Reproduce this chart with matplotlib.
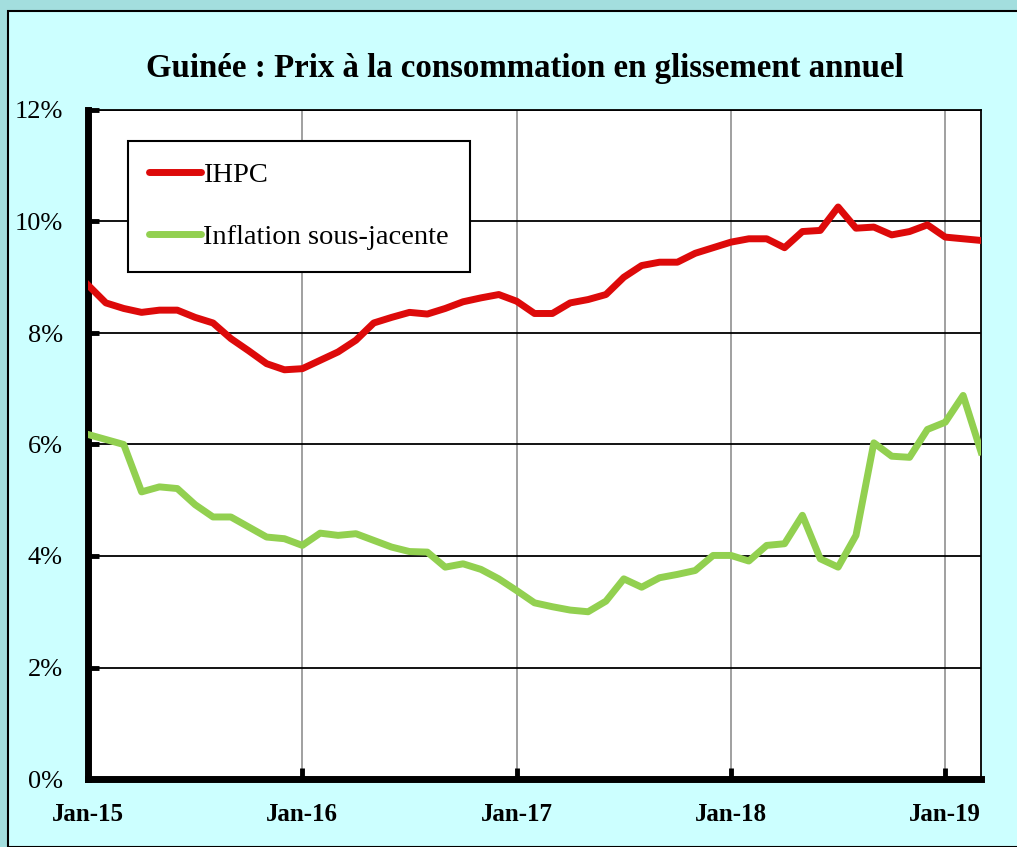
import matplotlib.pyplot as plt
from matplotlib.patches import Rectangle
from matplotlib.ticker import FuncFormatter

# monthly data, Jan-15 .. Mar-19
ihpc = [8.86, 8.54, 8.44, 8.37, 8.41, 8.41, 8.28, 8.18, 7.90, 7.68, 7.45, 7.34,
        7.36, 7.51, 7.66, 7.87, 8.18, 8.28, 8.37, 8.34, 8.44, 8.56, 8.63, 8.69,
        8.57, 8.35, 8.35, 8.54, 8.60, 8.69, 9.00, 9.21, 9.27, 9.27, 9.43, 9.53,
        9.63, 9.69, 9.69, 9.53, 9.82, 9.84, 10.26, 9.88, 9.90, 9.76, 9.82, 9.94,
        9.72, 9.69, 9.66]
sous_jacente = [6.18, 6.09, 6.00, 5.15, 5.24, 5.21, 4.92, 4.70, 4.70, 4.52, 4.34, 4.31,
                4.19, 4.41, 4.37, 4.40, 4.28, 4.16, 4.08, 4.07, 3.80, 3.86, 3.76, 3.59,
                3.38, 3.16, 3.09, 3.03, 3.00, 3.19, 3.59, 3.44, 3.61, 3.67, 3.74, 4.01,
                4.01, 3.91, 4.19, 4.22, 4.73, 3.95, 3.80, 4.37, 6.03, 5.79, 5.77, 6.27,
                6.40, 6.88, 5.87]
year_labels = ["Jan-15", "Jan-16", "Jan-17", "Jan-18", "Jan-19"]
months = list(range(len(ihpc)))

W, H = 1017, 847
plt.rcParams['font.family'] = ['Liberation Serif', 'DejaVu Serif']

fig = plt.figure(figsize=(W / 100, H / 100), dpi=100)
fig.patch.set_facecolor('#A3DEDE')
fig.patches.append(Rectangle((8 / W, 0), 1.0, 1 - 11 / H, transform=fig.transFigure,
                             facecolor='#CCFFFF', edgecolor='black', linewidth=1.5,
                             zorder=-10))

ax = fig.add_axes([88 / W, (H - 779) / H, (981 - 88) / W, (779 - 110) / H])
ax.set_facecolor('white')

ax.plot(months, ihpc, color='#DD0A0A', lw=5, label='IHPC', zorder=3)
ax.plot(months, sous_jacente, color='#92D050', lw=5, label='Inflation sous-jacente', zorder=3)

ax.set_xlim(0, len(ihpc) - 1)
ax.set_ylim(0, 12)
ax.set_yticks(range(0, 13, 2))
ax.yaxis.set_major_formatter(FuncFormatter(lambda v, p: f"{int(v)}%"))
ax.set_xticks([0, 12, 24, 36, 48])
ax.set_xticklabels(year_labels, fontweight='bold')

ax.grid(axis='y', color='black', lw=1.3)
ax.grid(axis='x', color='#999999', lw=1.3)
ax.set_axisbelow(True)

for s in ['top', 'right']:
    ax.spines[s].set_linewidth(1.3)
for s in ['left', 'bottom']:
    ax.spines[s].set_linewidth(5)

ax.tick_params(axis='y', direction='in', length=8, width=3.5, labelsize=19, pad=18)
ax.tick_params(axis='x', direction='in', length=8, width=3.5, labelsize=18, pad=17)

leg = ax.legend(loc='upper left', bbox_to_anchor=(40 / 893, 1 - 31 / 669),
                fontsize=20.5, frameon=True, fancybox=False, framealpha=1,
                edgecolor='black', handlelength=1.8, handletextpad=0.1,
                labelspacing=1.27, borderpad=0.75, borderaxespad=0)
leg.get_frame().set_linewidth(1.5)
for line in leg.get_lines():
    line.set_solid_capstyle('round')
    line.set_linewidth(5)

fig.text(525 / W, 1 - 68 / H, "Guinée : Prix à la consommation en glissement annuel",
         ha='center', va='center', fontsize=23.7, fontweight='bold')

fig.savefig('out.png', dpi=100, facecolor=fig.get_facecolor())
